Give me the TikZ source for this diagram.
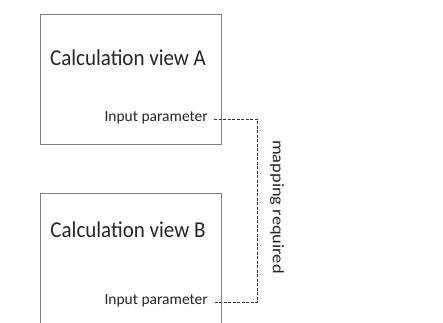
\documentclass[tikz,border=0pt]{standalone}
\usepackage{fontspec}
\setmainfont{Carlito}
\begin{document}
\begin{tikzpicture}[x=1pt,y=-1pt,
  viewbox/.style={draw=black!50,line width=1pt},
  title/.style={font=\fontsize{21}{24}\selectfont,text=black!85,inner sep=0pt,yscale=1.08},
  param/.style={font=\fontsize{15.5}{18}\selectfont,text=black!85,inner sep=0pt},
  maptext/.style={font=\fontsize{16}{18}\selectfont,text=black!85,inner sep=0pt},
  mapline/.style={draw=black!80,line width=1pt,dash pattern=on 3pt off 1.5pt}]
\useasboundingbox (0,0) rectangle (443,322);
\clip (0,0) rectangle (443,322);
\fill[white] (0,0) rectangle (443,322);
% box A
\node[viewbox,rectangle,minimum width=181pt,minimum height=130pt,inner sep=0pt,anchor=north west] (boxA) at (40,14) {};
\node[title] (tA) at (128,58) {Calculation view A};
\node[param,anchor=east] (pA) at (208,118) {Input parameter};
% box B (extends past the bottom edge)
\node[viewbox,rectangle,minimum width=181pt,minimum height=160pt,inner sep=0pt,anchor=north west] (boxB) at (40,193) {};
\node[title] (tB) at (128,230) {Calculation view B};
\node[param,anchor=east] (pB) at (208,301) {Input parameter};
% mapping connector
\coordinate (a0) at (214,119);
\coordinate (c1) at (257,119);
\coordinate (c2) at (257,302);
\coordinate (b0) at (214,302);
\draw[mapline] (a0) -- (c1) -- (c2) -- (b0);
\node[maptext,rotate=-90,xscale=1.15] (map) at (277,207) {mapping required};
\end{tikzpicture}
\end{document}
